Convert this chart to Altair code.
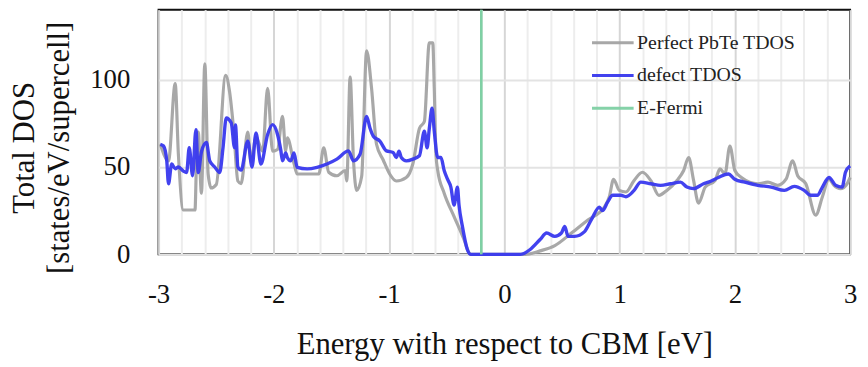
import altair as alt
import pandas as pd

# Perfect PbTe TDOS (gray)
perfect_x = [-2.985, -2.914, -2.856, -2.828, -2.785, -2.684, -2.673, -2.656, -2.628, -2.599,
             -2.570, -2.544, -2.499, -2.418, -2.384, -2.347, -2.312, -2.284, -2.226, -2.198,
             -2.155, -2.097, -2.054, -2.011, -1.968, -1.925, -1.897, -1.883, -1.825, -1.797,
             -1.610, -1.567, -1.524, -1.453, -1.381, -1.367, -1.338, -1.309, -1.281, -1.238,
             -1.195, -1.152, -1.109, -1.051, -0.995, -0.937, -0.851, -0.793, -0.737, -0.694,
             -0.651, -0.621, -0.608, -0.593, -0.578, -0.522, -0.436, -0.350, -0.307, -0.292,
             0.181, 0.310, 0.438, 0.582, 0.725, 0.868, 0.911, 0.948, 0.997, 1.055,
             1.126, 1.198, 1.270, 1.341, 1.410, 1.498, 1.556, 1.599, 1.642, 1.685,
             1.743, 1.828, 1.871, 1.914, 1.957, 2.000, 2.057, 2.200, 2.287, 2.372,
             2.444, 2.502, 2.545, 2.616, 2.702, 2.760, 2.817, 2.860, 2.917, 2.974, 3.000]
perfect_y = [63, 53.5, 97.7, 57, 25.4, 25.4, 48, 70, 35, 109,
             46, 38, 40, 102.4, 93, 70, 42, 40.5, 70, 53,
             67, 59, 95, 59, 60, 79, 59, 66.7, 52, 46,
             46, 61, 47, 45, 48, 42, 101.5, 54, 36.6, 44.5,
             116.5, 95, 63, 54, 46, 42, 44, 52, 72, 76,
             121, 121, 95, 57, 48, 35, 21.6, 8.5, 1, 0,
             0, 2, 5, 12.2, 19.7, 27, 33, 43, 36.6, 35.7,
             42.3, 47, 42.3, 33.8, 36.6, 42.3, 48, 55.4, 42.3, 29.3,
             38.5, 42.3, 48.9, 46, 62, 48, 44, 40.4, 41.3, 39.5,
             43, 53.5, 45, 40.4, 22.5, 33, 43, 39.5, 37.6, 40.4, 44]

# defect TDOS (blue)
defect_x = [-2.985, -2.957, -2.929, -2.914, -2.886, -2.856, -2.828, -2.785, -2.757, -2.734,
            -2.705, -2.676, -2.656, -2.628, -2.585, -2.556, -2.513, -2.470, -2.441, -2.413,
            -2.370, -2.341, -2.333, -2.312, -2.284, -2.226, -2.189, -2.155, -2.112, -2.054,
            -2.011, -1.968, -1.940, -1.925, -1.897, -1.883, -1.854, -1.825, -1.797, -1.711,
            -1.625, -1.539, -1.453, -1.352, -1.309, -1.252, -1.195, -1.166, -1.137, -1.080,
            -1.023, -0.965, -0.937, -0.914, -0.894, -0.851, -0.793, -0.737, -0.694, -0.670,
            -0.651, -0.627, -0.608, -0.578, -0.550, -0.522, -0.493, -0.464, -0.436, -0.407,
            -0.393, -0.364, -0.321, -0.292, 0.138, 0.224, 0.310, 0.367, 0.438, 0.495,
            0.524, 0.553, 0.610, 0.696, 0.754, 0.825, 0.851, 0.897, 0.940, 1.012,
            1.055, 1.126, 1.184, 1.270, 1.356, 1.442, 1.528, 1.584, 1.642, 1.728,
            1.771, 1.857, 1.943, 2.000, 2.086, 2.200, 2.315, 2.430, 2.516, 2.602,
            2.659, 2.716, 2.760, 2.817, 2.874, 2.931, 2.960, 3.000]
defect_y = [63, 62, 53.5, 40.4, 51.7, 49, 50, 47.6, 46.8, 61,
            45, 71.4, 46.8, 58.7, 64, 53.5, 50, 46.8, 61, 78,
            75.3, 61, 74, 50, 48.2, 64.8, 50, 69.5, 51.7, 68.6,
            74.2, 68.6, 59.8, 53.5, 58, 55.4, 53.5, 58, 49.8, 48.9,
            49.8, 51.7, 54.5, 59.2, 53.5, 57.3, 78.9, 72.3, 67.6, 64.8,
            59.2, 58.3, 55.4, 59, 55.4, 53.5, 54.5, 56.4, 70.5, 61,
            72, 83.6, 70.5, 55.4, 55.4, 48, 43, 38.5, 28.2, 38.5,
            28, 16, 2.8, 0, 0, 2.8, 8.5, 12.2, 10.3, 12.2,
            16, 10.3, 10.3, 13, 19.7, 27, 25, 30, 33.8, 33.8,
            33, 36.6, 41.3, 40.4, 39.5, 40.4, 41.3, 38.5, 37.6, 40.4,
            41.3, 44, 46, 43, 41.3, 39.5, 38.5, 36.6, 38.9, 36.6,
            33.8, 33.8, 38.5, 44, 39.5, 38.5, 47, 50.7]

# Fermi level
fermi_x = [-0.2, -0.2]
fermi_y = [0, 140]

series_names = ["Perfect PbTe TDOS", "defect TDOS", "E-Fermi"]
series_colors = ["#a3a3a3", "#3838ee", "#7fd0a4"]

df = pd.concat([
    pd.DataFrame({"E": perfect_x, "DOS": perfect_y, "series": series_names[0], "o": range(len(perfect_x))}),
    pd.DataFrame({"E": defect_x, "DOS": defect_y, "series": series_names[1], "o": range(len(defect_x))}),
    pd.DataFrame({"E": fermi_x, "DOS": fermi_y, "series": series_names[2], "o": range(len(fermi_x))}),
])

grid_vals = [round(-3 + 0.2 * i, 1) for i in range(31)]
FONT = "Liberation Serif"

x_enc = alt.X("E:Q", scale=alt.Scale(domain=[-3, 3], nice=False, zero=False),
              axis=alt.Axis(values=grid_vals,
                            labelExpr="abs(datum.value - round(datum.value)) < 0.001 ? '' + round(datum.value) : ''",
                            title="Energy with respect to CBM [eV]",
                            ticks=False, domain=False, labelPadding=28, titlePadding=22,
                            gridColor={"condition": {"test": "abs(datum.value - round(datum.value)) < 0.001",
                                                     "value": "#d6d6d6"}, "value": "#ededed"},
                            gridWidth=2, labelFlush=False))
y_enc = alt.Y("DOS:Q", scale=alt.Scale(domain=[0, 140], nice=False),
              axis=alt.Axis(values=[0, 50, 100], title=["Total DOS", "[states/eV/supercell]"],
                            ticks=False, domain=False, labelPadding=29, gridColor="#e3e3e3",
                            gridWidth=2, titleLineHeight=36, titlePadding=14, titleY=139))
color_enc = alt.Color("series:N",
                      scale=alt.Scale(domain=series_names, range=series_colors),
                      legend=alt.Legend(title=None, orient="none", legendX=436, legendY=11,
                                        symbolType="stroke", symbolSize=1764, symbolStrokeWidth=3,
                                        labelFont=FONT, labelFontSize=20, labelColor="#222222",
                                        labelOffset=2, rowPadding=0))

base = alt.Chart(df).encode(x=x_enc, y=y_enc, color=color_enc, order="o:Q")

gray = base.transform_filter(alt.datum.series == series_names[0]).mark_line(
    strokeWidth=3.2, opacity=0.95, strokeJoin="round", interpolate="monotone")
blue = base.transform_filter(alt.datum.series == series_names[1]).mark_line(
    strokeWidth=3.4, opacity=0.95, strokeJoin="round", interpolate="monotone")
green = base.transform_filter(alt.datum.series == series_names[2]).mark_line(strokeWidth=2.6)

chart = alt.layer(gray, blue, green).properties(
    width=698, height=247,
    autosize=alt.AutoSizeParams(type="none"),
    padding={"left": 152, "top": 0, "right": 10, "bottom": 112},
).configure_view(
    stroke="#111111", strokeWidth=2
).configure_axis(
    labelFont=FONT, titleFont=FONT, labelFontSize=27, titleFontSize=31,
    labelColor="#111111", titleColor="#111111", titleFontWeight="normal"
)

chart.save("out.html", embed_options={"renderer": "svg", "actions": False})
